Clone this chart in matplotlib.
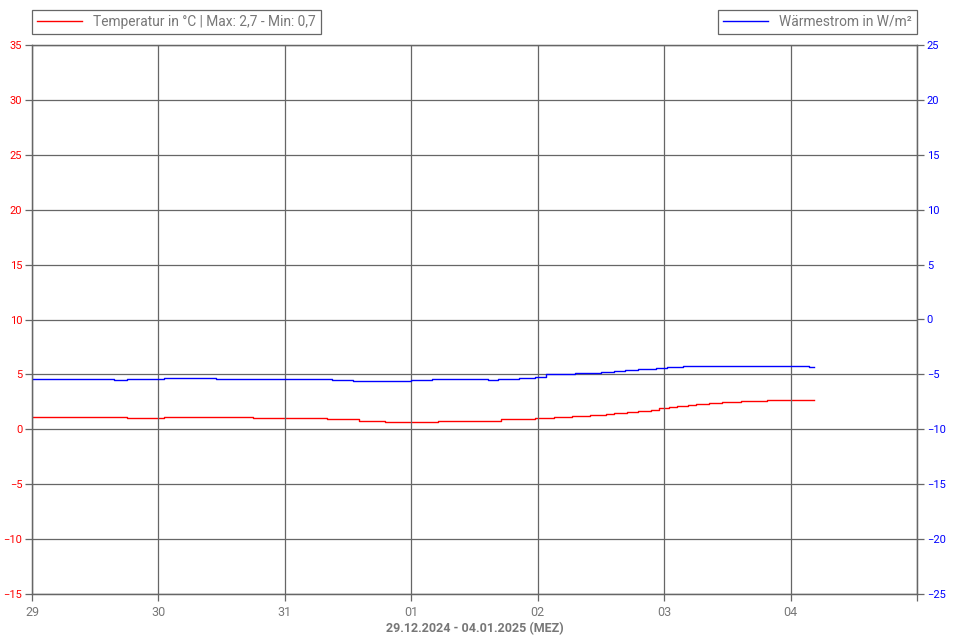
import matplotlib
matplotlib.use("Agg")
import matplotlib.pyplot as plt
from matplotlib.lines import Line2D

# Data: hours since 29.12.2024 00:00 (MEZ)
temp_hours = [0, 18, 25, 42, 56, 62, 67, 77, 89, 95.5, 99, 102.5, 106, 109, 110.5,
              113, 115, 117.5, 119, 121, 122.5, 124.5, 126, 128.5, 131, 134.5, 139.5, 148.5]
temp_values = [1.1, 1.0, 1.1, 1.0, 0.9, 0.8, 0.7, 0.8, 0.9, 1.0, 1.1, 1.2, 1.3, 1.4, 1.5,
               1.6, 1.7, 1.8, 1.9, 2.0, 2.1, 2.2, 2.3, 2.4, 2.5, 2.6, 2.7, 2.7]

flux_hours = [0, 15.5, 18, 25, 35, 57, 61, 72, 76, 86.5, 88.5, 92.5, 95.5, 97.5, 103,
              108, 110.5, 112.5, 115, 118.5, 120.5, 123.5, 147.5, 148.5]
flux_values = [-5.4, -5.5, -5.4, -5.3, -5.4, -5.5, -5.6, -5.5, -5.4, -5.5, -5.4, -5.3, -5.2,
               -5.0, -4.9, -4.8, -4.7, -4.6, -4.5, -4.4, -4.3, -4.2, -4.3, -4.3]

day_labels = ["29", "30", "31", "01", "02", "03", "04"]
temp_label = "Temperatur in °C | Max: 2,7 - Min: 0,7"
flux_label = "Wärmestrom in W/m²"
x_title = "29.12.2024 - 04.01.2025 (MEZ)"

plt.rcParams['font.family'] = ['Roboto', 'DejaVu Sans']
grid_c = "#666666"
text_c = "#777777"

fig = plt.figure(figsize=(9.6, 6.4), dpi=100)
ax = fig.add_axes([32/960, 46/640, 885/960, 549/640])
ax2 = ax.twinx()

t_days = [h / 24 for h in temp_hours]
f_days = [h / 24 for h in flux_hours]

ax.step(t_days, temp_values, where='post', color='#ff0000', lw=1.0, zorder=1)
ax2.step(f_days, flux_values, where='post', color='#0000ff', lw=1.0, zorder=1)

ax.set_xlim(0, 7)
ax.set_ylim(-15, 35)
ax2.set_ylim(-25, 25)
ax.set_yticks(range(-15, 36, 5))
ax2.set_yticks(range(-25, 26, 5))
ax.set_xticks(range(0, 7))
ax.set_xticklabels(day_labels)
ax.set_xticks([7], minor=True)

ax.grid(True, which='both', color=grid_c, lw=0.9)
ax.set_axisbelow(False)

for a in (ax, ax2):
    for s in a.spines.values():
        s.set_color(grid_c)
        s.set_linewidth(0.9)

ax.tick_params(axis='y', colors='#ff0000', labelsize=8, length=5, width=0.9, pad=2)
ax.tick_params(axis='y', which='both', color=grid_c)
ax2.tick_params(axis='y', colors='#0000ff', labelsize=8, length=5, width=0.9, pad=2)
ax2.tick_params(axis='y', color=grid_c)
ax.tick_params(axis='x', which='both', colors=text_c, labelsize=8, length=5, width=0.9, color=grid_c)
for lab in ax.get_xticklabels():
    lab.set_family(['Liberation Sans Narrow', 'Roboto', 'DejaVu Sans'])
    lab.set_fontsize(9)

ax.set_xlabel(x_title, color=text_c, fontsize=9, fontweight='bold', labelpad=2,
              family=['Liberation Sans Narrow', 'Roboto', 'DejaVu Sans'])

h1 = Line2D([], [], color='#ff0000', lw=1.0)
h2 = Line2D([], [], color='#0000ff', lw=1.0)
leg1 = fig.legend([h1], [temp_label], loc='upper left', bbox_to_anchor=(32/960, 1 - 10/640),
                  fancybox=False, edgecolor=grid_c, framealpha=1, fontsize=9.9, handlelength=3.3,
                  borderpad=0.35, handletextpad=0.8, borderaxespad=0)
leg2 = fig.legend([h2], [flux_label], loc='upper right', bbox_to_anchor=(917/960, 1 - 10/640),
                  fancybox=False, edgecolor=grid_c, framealpha=1, fontsize=9.9, handlelength=3.3,
                  borderpad=0.35, handletextpad=0.8, borderaxespad=0)
for leg in (leg1, leg2):
    leg.get_frame().set_linewidth(0.9)
    for t in leg.get_texts():
        t.set_color(text_c)

fig.savefig("out.png", dpi=100)
